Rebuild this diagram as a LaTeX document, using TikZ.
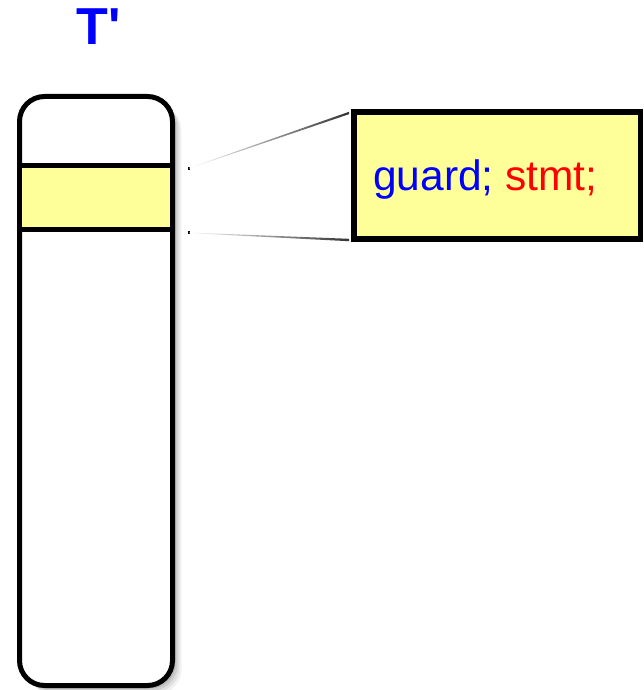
\documentclass[tikz,border=0pt]{standalone}
\usepackage{fontspec}
\setmainfont{Liberation Sans}
\newfontfamily\titlefont{Liberation Sans}[Ligatures=TeXOff]
\definecolor{paleyellow}{HTML}{FFFF99}
\definecolor{tblue}{HTML}{0000FF}
\definecolor{tred}{HTML}{FF0000}
\begin{document}
\begin{tikzpicture}[x=1pt,y=-1pt,
  colbox/.style={draw=black,line width=5pt,rounded corners=25pt,fill=white,inner sep=0pt,outer sep=0pt,minimum width=153pt,minimum height=589pt},
  bandbox/.style={draw=black,line width=5pt,fill=paleyellow,inner sep=0pt,outer sep=0pt,minimum width=153pt,minimum height=64pt},
  zoombox/.style={draw=black,line width=5.5pt,fill=paleyellow,inner sep=0pt,outer sep=0pt,minimum width=286.5pt,minimum height=127pt},
  dotmark/.style={fill=black,inner sep=0pt,minimum size=2.2pt,outer sep=0pt}]
\useasboundingbox (0,0) rectangle (644,690);
% soft shadow of the column
\foreach \d/\o in {9/0.05,7/0.07,5/0.09,3/0.12}{
  \fill[black,opacity=\o,rounded corners=25pt] (19.5+\d,96.5+\d) rectangle (172.5+\d,685.5+\d);
}
\node[colbox] (col) at (96,391) {};
\node[bandbox] (band) at (96,197.5) {};
\node[font=\titlefont\bfseries\fontsize{52}{52}\selectfont,text=tblue,anchor=base] (title) at (99,45) {T'};
\node[zoombox] (box) at (497.25,175.5) {};
\node[anchor=base west,inner sep=0pt,font=\fontsize{42.5}{42.5}\selectfont] (code) at (373,190.5)
  {\textcolor{tblue}{guard;} \textcolor{tred}{stmt;}};
\node[dotmark] (d1) at (189,168.5) {};
\node[dotmark] (d2) at (189,232.5) {};
\coordinate (e1) at ([xshift=-5pt,yshift=-1pt]box.north west);
\coordinate (e2) at ([xshift=-5pt,yshift=-1pt]box.south west);
% gradient connectors
\shade[left color=white,right color=black!80] (d1.center) -- ([yshift=-1.2pt]e1) -- ([yshift=1.2pt]e1) -- ([yshift=0.6pt]d1.center) -- cycle;
\shade[left color=white,right color=black!80] ([yshift=-0.6pt]d2.center) -- ([yshift=-1.2pt]e2) -- ([yshift=1.2pt]e2) -- (d2.center) -- cycle;
\end{tikzpicture}
\end{document}
